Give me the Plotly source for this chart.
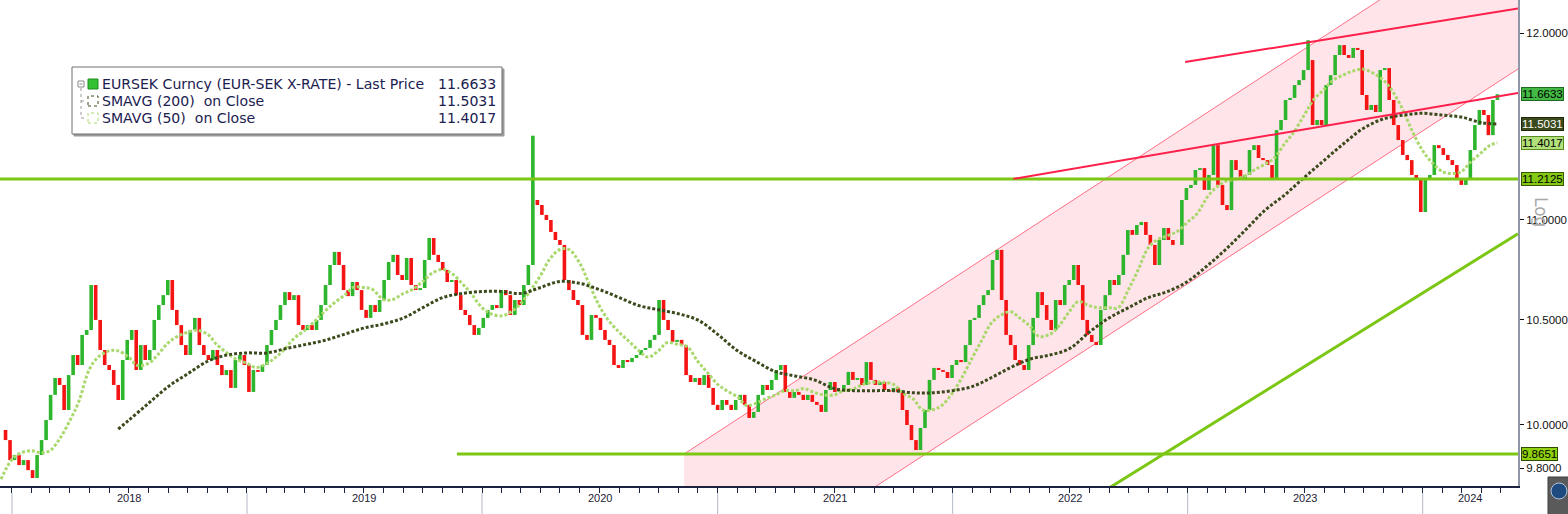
import numpy as np
import pandas as pd
import plotly.graph_objects as go

# ---------------- data ----------------
# weekly closes of EURSEK, first week ending 2017-12-15
closes = [
    9.976, 9.929, 9.837, 9.860, 9.814, 9.837, 9.791, 9.755, 9.860, 9.929,
    10.022, 10.140, 10.220, 10.187, 10.069, 10.234, 10.330, 10.282, 10.427, 10.451,
    10.672, 10.500, 10.354, 10.282, 10.258, 10.187, 10.116, 10.306, 10.403, 10.451,
    10.258, 10.378, 10.306, 10.354, 10.500, 10.573, 10.622, 10.697, 10.549, 10.475,
    10.378, 10.330, 10.451, 10.510, 10.378, 10.330, 10.306, 10.354, 10.282, 10.234,
    10.258, 10.173, 10.306, 10.330, 10.282, 10.154,
    # 2019
    10.258, 10.249, 10.282, 10.378, 10.451, 10.500, 10.573, 10.637, 10.598, 10.622,
    10.475, 10.451, 10.475, 10.451, 10.500, 10.573, 10.672, 10.772, 10.838, 10.772,
    10.647, 10.617, 10.687, 10.647, 10.549, 10.510, 10.573, 10.539, 10.598, 10.697,
    10.787, 10.823, 10.722, 10.697, 10.807, 10.672, 10.647, 10.657, 10.797, 10.908,
    10.823, 10.787, 10.747, 10.687, 10.697, 10.622, 10.549, 10.524, 10.475, 10.427,
    10.461, 10.510,
    # 2020
    10.549, 10.573, 10.558, 10.647, 10.622, 10.524, 10.598, 10.573, 10.672, 10.772,
    11.103, 11.077, 11.026, 11.000, 10.939, 10.898, 10.873, 10.697, 10.647, 10.598,
    10.573, 10.427, 10.403, 10.524, 10.510, 10.451, 10.403, 10.378, 10.282, 10.268,
    10.306, 10.296, 10.316, 10.330, 10.354, 10.364, 10.403, 10.427, 10.598, 10.500,
    10.451, 10.393, 10.403, 10.378, 10.234, 10.201, 10.220, 10.187, 10.234, 10.173,
    10.093, 10.069,
    # 2021
    10.116, 10.093, 10.069, 10.116, 10.140, 10.093, 10.032, 10.060, 10.140, 10.187,
    10.163, 10.211, 10.258, 10.282, 10.154, 10.126, 10.154, 10.140, 10.116, 10.140,
    10.107, 10.093, 10.060, 10.163, 10.201, 10.154, 10.163, 10.187, 10.249, 10.211,
    10.220, 10.187, 10.296, 10.211, 10.187, 10.201, 10.163, 10.154, 10.173, 10.154,
    10.069, 9.999, 9.929, 9.883, 9.985, 10.069, 10.211, 10.268, 10.258, 10.249,
    10.220, 10.282,
    # 2022
    10.306, 10.296, 10.378, 10.500, 10.510, 10.573, 10.622, 10.647, 10.797, 10.848,
    10.598, 10.427, 10.378, 10.306, 10.282, 10.258, 10.378, 10.510, 10.637, 10.573,
    10.500, 10.451, 10.598, 10.573, 10.672, 10.697, 10.772, 10.672, 10.500, 10.427,
    10.393, 10.378, 10.549, 10.622, 10.697, 10.672, 10.722, 10.823, 10.949, 10.924,
    10.974, 10.990, 10.924, 10.873, 10.772, 10.898, 10.959, 10.898, 10.873, 10.873,
    11.103, 11.165, 11.181,
    # 2023
    11.259, 11.269, 11.155, 11.233, 11.390, 11.181, 11.077, 11.051, 11.311, 11.259,
    11.207, 11.233, 11.364, 11.390, 11.322, 11.311, 11.285, 11.207, 11.470, 11.524,
    11.632, 11.643, 11.713, 11.740, 11.795, 11.850, 11.497, 11.524, 11.497, 11.713,
    11.767, 11.878, 11.933, 11.878, 11.862, 11.917, 11.906, 11.659, 11.578, 11.605,
    11.567, 11.795, 11.806, 11.632, 11.497, 11.417, 11.338, 11.311, 11.233, 11.207,
    11.041,
    # 2024
    11.207, 11.233, 11.390, 11.374, 11.338, 11.311, 11.285, 11.217, 11.181, 11.207,
    11.364, 11.497, 11.578, 11.551, 11.443, 11.632, 11.6633,
]
first_week = "2017-12-15"

# intraweek spikes (highs) visible as long wicks
wick_dates = ["2020-03-20", "2023-07-07"]
wick_highs = [11.44, 11.96]

# 200-day moving average: first point, then month starts Jul-2018 .. Apr-2024, then last
sma200_first = "2018-06-15"
sma200_values = [
    9.98,
    10.02, 10.10, 10.18, 10.24, 10.30, 10.33,
    10.34, 10.34, 10.36, 10.38, 10.40, 10.43, 10.46, 10.48, 10.51, 10.56, 10.61, 10.63,
    10.64, 10.64, 10.63, 10.66, 10.69, 10.68, 10.65, 10.61, 10.57, 10.55, 10.53, 10.50,
    10.43, 10.35, 10.30, 10.25, 10.23, 10.21, 10.17, 10.16, 10.16, 10.16, 10.15, 10.15,
    10.16, 10.18, 10.22, 10.27, 10.31, 10.33, 10.36, 10.44, 10.51, 10.56, 10.61, 10.64,
    10.69, 10.77, 10.85, 10.95, 11.05, 11.13, 11.22, 11.31, 11.40, 11.48, 11.53, 11.55,
    11.56, 11.55, 11.54, 11.51,
    11.5031,
]
# 50-day moving average: semi-monthly (1st / 15th) from 2017-12-15, then last
sma50_values = [
    9.75,
    9.84, 9.87, 9.88, 9.87, 9.88, 9.93, 10.02, 10.11, 10.26, 10.32, 10.35, 10.35,
    10.32, 10.28, 10.29, 10.33, 10.39, 10.42, 10.44, 10.45, 10.43, 10.38, 10.34, 10.31,
    10.29, 10.27, 10.29, 10.32, 10.36, 10.41, 10.45, 10.49, 10.54, 10.58, 10.62, 10.66,
    10.66, 10.65, 10.60, 10.60, 10.63, 10.65, 10.69, 10.73, 10.75, 10.73, 10.68, 10.63,
    10.56, 10.53, 10.52, 10.54, 10.58, 10.64, 10.72, 10.80, 10.85, 10.85, 10.78, 10.68,
    10.57, 10.50, 10.44, 10.40, 10.35, 10.32, 10.35, 10.39, 10.38, 10.37, 10.30, 10.25,
    10.19, 10.16, 10.13, 10.09, 10.10, 10.12, 10.14, 10.16, 10.16, 10.17, 10.15, 10.14,
    10.14, 10.16, 10.17, 10.19, 10.20, 10.20, 10.19, 10.15, 10.12, 10.07, 10.07, 10.09,
    10.15, 10.22, 10.32, 10.40, 10.48, 10.52, 10.54, 10.51, 10.47, 10.42, 10.43, 10.47,
    10.54, 10.59, 10.57, 10.56, 10.56, 10.56, 10.65, 10.74, 10.86, 10.90, 10.92, 10.94,
    10.99, 11.03, 11.12, 11.17, 11.20, 11.21, 11.23, 11.26, 11.29, 11.32, 11.40, 11.46,
    11.55, 11.63, 11.69, 11.74, 11.77, 11.79, 11.80, 11.78, 11.74, 11.68, 11.58, 11.47,
    11.36, 11.30, 11.25, 11.24, 11.25, 11.30, 11.35, 11.39,
    11.4017,
]
last_date = "2024-04-26"

# drawn levels / trend lines (date, price endpoints)
level_high = 11.2125
level_low = 9.8651
level_low_start = "2019-11-23"
green_trend_dates = ["2022-07-18", "2024-05-28"]
green_trend_prices = [9.629, 10.93]
red_res1_dates = ["2022-04-05", "2024-05-28"]
red_res1_prices = [11.2125, 11.670]
red_res2_dates = ["2022-12-28", "2024-05-28"]
red_res2_prices = [11.839, 12.138]
channel_dates = ["2020-11-10", "2024-05-28"]
channel_upper = [9.8651, 12.709]
channel_lower = [9.170, 11.801]

x_range = ["2017-12-13 10:00", "2024-05-28"]
y_range = [9.719, 12.186]
y_ticks = [9.8, 10.0, 10.5, 11.0, 12.0]
year_labels = ["2018", "2019", "2020", "2021", "2022", "2023", "2024"]
year_label_dates = ["2018-07-02", "2019-07-02", "2020-07-02", "2021-07-02",
                    "2022-07-02", "2023-07-02", "2024-03-15"]
year_starts = ["2018-01-01", "2019-01-01", "2020-01-01", "2021-01-01",
               "2022-01-01", "2023-01-01", "2024-01-01"]

# ---------------- build ----------------
dates = pd.date_range(first_week, periods=len(closes), freq="W-FRI")
close = np.array(closes)
openp = np.concatenate([[close[0]], close[:-1]])
high = np.maximum(openp, close)
low = np.minimum(openp, close)
for d, h in zip(wick_dates, wick_highs):
    idx = int(np.argmin(np.abs((dates - pd.Timestamp(d)).days)))
    high[idx] = max(high[idx], h)

sma200_dates = ([pd.Timestamp(sma200_first)]
                + list(pd.date_range("2018-07-01", periods=len(sma200_values) - 2, freq="MS"))
                + [pd.Timestamp(last_date)])
sma50_dates = (list(pd.date_range(first_week, periods=len(sma50_values) - 1, freq="SMS"))
               + [pd.Timestamp(last_date)])


def bar_segments(mask):
    xs, ys = [], []
    for d, lo, hi, m in zip(dates, low, high, mask):
        if m:
            xs += [d, d, None]
            ys += [lo, hi, None]
    return xs, ys


GREEN_LINE = "#7cc614"
fig = go.Figure()

# channel fill (drawn first, under everything)
fig.add_trace(go.Scatter(
    x=[channel_dates[0], channel_dates[1], channel_dates[1], channel_dates[0], channel_dates[0]],
    y=[channel_upper[0], channel_upper[1], channel_lower[1], channel_lower[0], channel_upper[0]],
    fill="toself", fillcolor="#ffe4e9", mode="lines", line=dict(width=0),
    hoverinfo="skip"))
for yy in (channel_upper, channel_lower):
    fig.add_trace(go.Scatter(x=channel_dates, y=yy, mode="lines",
                             line=dict(color="#ff6f86", width=1), hoverinfo="skip"))

# price bars (up = green, down = red)
up = close >= openp
for mask, col in ((up, "#2db52d"), (~up, "#f41414")):
    bx, by = bar_segments(mask)
    fig.add_trace(go.Scatter(x=bx, y=by, mode="lines", connectgaps=False,
                             line=dict(color=col, width=3.6), hoverinfo="skip"))

# moving averages
fig.add_trace(go.Scatter(x=sma50_dates, y=sma50_values, mode="lines", line_shape="spline",
                         line=dict(color="#a9d86c", width=3, dash="3px,2px"), hoverinfo="skip"))
fig.add_trace(go.Scatter(x=sma200_dates, y=sma200_values, mode="lines", line_shape="spline",
                         line=dict(color="#3b4a1c", width=3, dash="3px,2px"), hoverinfo="skip"))

# green levels and trend
fig.add_trace(go.Scatter(x=x_range, y=[level_high, level_high], mode="lines",
                         line=dict(color=GREEN_LINE, width=3), hoverinfo="skip"))
fig.add_trace(go.Scatter(x=[level_low_start, x_range[1]], y=[level_low, level_low], mode="lines",
                         line=dict(color=GREEN_LINE, width=3), hoverinfo="skip"))
fig.add_trace(go.Scatter(x=green_trend_dates, y=green_trend_prices, mode="lines",
                         line=dict(color=GREEN_LINE, width=3), hoverinfo="skip"))
# red resistance lines
fig.add_trace(go.Scatter(x=red_res1_dates, y=red_res1_prices, mode="lines",
                         line=dict(color="#ff1f4b", width=2), hoverinfo="skip"))
fig.add_trace(go.Scatter(x=red_res2_dates, y=red_res2_prices, mode="lines",
                         line=dict(color="#ff1f4b", width=2), hoverinfo="skip"))

PW, PH = 1518.0, 486.0
def px(v):
    return v / PW
def py(v):
    return (PH - v) / PH

shapes = []
annotations = []

# year separators below axis
for d in year_starts:
    shapes.append(dict(type="line", xref="x", yref="paper", x0=d, x1=d,
                       y0=py(493), y1=py(516), line=dict(color="#b4b8c4", width=1)))
for lab, d in zip(year_labels, year_label_dates):
    annotations.append(dict(text=lab, xref="x", yref="paper", x=d, y=py(506),
                            showarrow=False, font=dict(family="Liberation Sans", size=11, color="#1c2236")))

# value tags on right axis
tags = [
    (level_low, "#8fd10e", "#2d4a00", "#000000"),
    (level_high, "#84c814", "#3a5a00", "#000000"),
    (closes[-1], "#44b844", "#1f6a1f", "#000000"),
    (sma200_values[-1], "#3b4a1c", "#20280c", "#ffffff"),
    (sma50_values[-1], "#b2e07a", "#5a8a20", "#000000"),
]
for val, bg, bd, fc in tags:
    annotations.append(dict(text="%.4f" % val, xref="paper", yref="y", x=1.0, xshift=3,
                            y=np.log10(val), xanchor="left", yanchor="middle", showarrow=False,
                            bgcolor=bg, bordercolor=bd, borderwidth=1, borderpad=0,
                            font=dict(family="Liberation Sans", size=11.5, color=fc)))

# "Log" label
annotations.append(dict(text="Log", xref="paper", yref="paper", x=px(1553), y=py(212),
                        textangle=90, showarrow=False,
                        font=dict(family="DejaVu Sans", size=17, color="#a9a9a9")))

# legend box
shapes.append(dict(type="rect", xref="paper", yref="paper", x0=px(74), x1=px(504),
                   y0=py(136), y1=py(69), line=dict(color="#9a9a9a", width=1), fillcolor="#9a9a9a"))
shapes.append(dict(type="rect", xref="paper", yref="paper", x0=px(72), x1=px(502),
                   y0=py(134), y1=py(67), line=dict(color="#707070", width=1), fillcolor="#ffffff"))
# tree icon
shapes.append(dict(type="rect", xref="paper", yref="paper", x0=px(78), x1=px(84),
                   y0=py(87), y1=py(81), line=dict(color="#8a8a8a", width=1)))
shapes.append(dict(type="line", xref="paper", yref="paper", x0=px(79.5), x1=px(82.5),
                   y0=py(84), y1=py(84), line=dict(color="#8a8a8a", width=1)))
shapes.append(dict(type="line", xref="paper", yref="paper", x0=px(81), x1=px(81),
                   y0=py(88), y1=py(118), line=dict(color="#9a9a9a", width=1, dash="dot")))
for yy in (101, 118):
    shapes.append(dict(type="line", xref="paper", yref="paper", x0=px(81), x1=px(87),
                       y0=py(yy), y1=py(yy), line=dict(color="#9a9a9a", width=1, dash="dot")))
# series icons
shapes.append(dict(type="rect", xref="paper", yref="paper", x0=px(88), x1=px(98),
                   y0=py(89), y1=py(79), line=dict(color="#1f8f1f", width=1), fillcolor="#33c033"))
shapes.append(dict(type="rect", xref="paper", yref="paper", x0=px(88), x1=px(98),
                   y0=py(106), y1=py(96), line=dict(color="#3b4a1c", width=1, dash="dot")))
shapes.append(dict(type="rect", xref="paper", yref="paper", x0=px(88), x1=px(98),
                   y0=py(123), y1=py(113), line=dict(color="#a9d86c", width=1, dash="dot")))

legend_rows = [
    ("EURSEK Curncy (EUR-SEK X-RATE) - Last Price", closes[-1], 84),
    ("SMAVG (200)  on Close", sma200_values[-1], 101),
    ("SMAVG (50)  on Close", sma50_values[-1], 118),
]
LFONT = dict(family="DejaVu Sans", size=14.1, color="#1b2050")
for label, val, yy in legend_rows:
    annotations.append(dict(text=label.replace("  ", "&nbsp; "), xref="paper", yref="paper",
                            x=px(100), y=py(yy), xanchor="left", yanchor="middle",
                            showarrow=False, font=LFONT))
    annotations.append(dict(text="%.4f" % val, xref="paper", yref="paper",
                            x=px(498), y=py(yy), xanchor="right", yanchor="middle",
                            showarrow=False, font=LFONT))

# bottom-right button
shapes.append(dict(type="rect", xref="paper", yref="paper", x0=px(1548), x1=px(1572),
                   y0=py(516), y1=py(477), line=dict(color="#3c3c3c", width=1), fillcolor="#5a5a5a"))
shapes.append(dict(type="circle", xref="paper", yref="paper", x0=px(1551), x1=px(1567),
                   y0=py(499), y1=py(483), line=dict(color="#b0c4de", width=1), fillcolor="#1f4a80"))

fig.update_layout(
    width=1568, height=514,
    margin=dict(l=0, r=50, t=0, b=28),
    paper_bgcolor="white", plot_bgcolor="white",
    showlegend=False, hovermode=False,
    shapes=shapes, annotations=annotations,
    xaxis=dict(type="date", range=x_range,
               showgrid=False, zeroline=False, showline=True, linecolor="#1c2340", linewidth=2,
               ticks="outside", ticklen=5, tickcolor="#1c2340", tickwidth=1,
               dtick="M1", tick0="2018-01-01", showticklabels=False),
    yaxis=dict(type="log", range=[np.log10(y_range[0]), np.log10(y_range[1])], side="right",
               showgrid=False, zeroline=False, showline=True, linecolor="#8f96a8", linewidth=2,
               ticks="outside", ticklen=4, tickcolor="#111111",
               tickvals=y_ticks, ticktext=["%.4f" % v for v in y_ticks],
               tickfont=dict(family="Liberation Sans", size=11.5, color="#111111")),
)

fig.write_html("out.html", config={"displayModeBar": False, "staticPlot": True},
               post_script="document.body.style.margin='0px';document.body.style.overflow='hidden';")
